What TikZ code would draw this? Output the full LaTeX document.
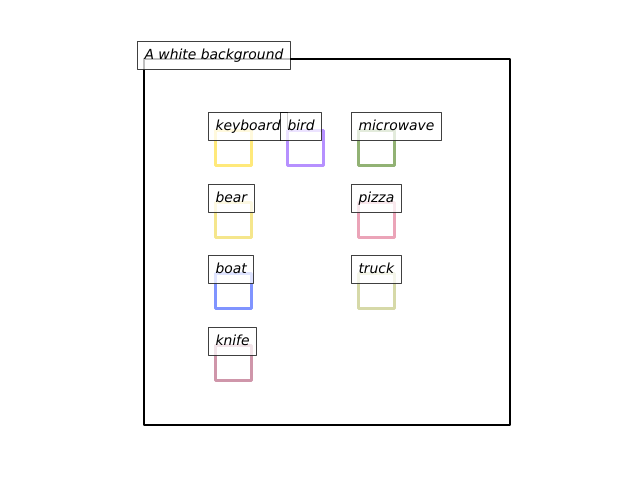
\documentclass[tikz,border=0pt]{standalone}
\usepackage{fontspec}
\setmainfont{DejaVu Sans}
\definecolor{kbyellow}{HTML}{FFE97A}
\definecolor{birdpurple}{HTML}{B690FF}
\definecolor{mwgreen}{HTML}{92B274}
\definecolor{bearyellow}{HTML}{F5E68C}
\definecolor{pizzapink}{HTML}{EBA4B8}
\definecolor{boatblue}{HTML}{8094FF}
\definecolor{truckolive}{HTML}{D6D9A8}
\definecolor{knifemauve}{HTML}{CF96AA}
\begin{document}
\begin{tikzpicture}[x=1pt, y=-1pt, line join=round,
  lab/.style={draw=black, draw opacity=0.75, fill=white, fill opacity=0.75, text opacity=1, line width=1pt, anchor=base west, inner xsep=7pt, inner ysep=7pt, text height=10.5pt, text depth=3.5pt, font=\fontsize{13.9}{16}\selectfont\itshape},
  sq/.style={line width=3pt}]
  \useasboundingbox (0,0) rectangle (640,480);
  \draw[line width=2.2pt] (144,59) rectangle (510,425);
  \node[lab] (title) at (137,59) {A white background};
  \foreach \name/\x/\y/\col in {keyboard/215/130/kbyellow, bird/287/130/birdpurple, microwave/358/130/mwgreen, bear/215/202/bearyellow, pizza/358/202/pizzapink, boat/215/273/boatblue, truck/358/273/truckolive, knife/215/345/knifemauve} {
    \draw[sq, draw=\col] (\x,\y) rectangle ++(36,35);
    \node[lab] (\name) at (\x-7,\y) {\name};
  }
\end{tikzpicture}
\end{document}
